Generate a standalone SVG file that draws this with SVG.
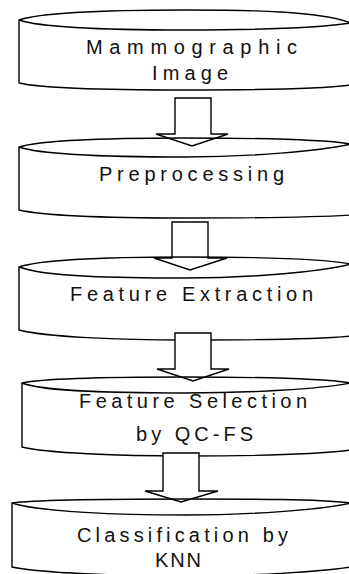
<svg xmlns="http://www.w3.org/2000/svg" width="349" height="574" viewBox="0 0 349 574">
<style>
.b{fill:none;stroke:#000;stroke-width:1.4;stroke-linejoin:round}
.a{fill:#fff;stroke:#000;stroke-width:1.4;stroke-linejoin:miter}
.t{font-family:"Liberation Sans Narrow","Liberation Sans",Arial,sans-serif;font-size:20px;fill:#111}
</style>
<rect width="349" height="574" fill="#fff"/>
<g id="node1">
<path class="b" d="M19,20 C45,11 120,10 185,10 C250,10 320,11 351,23 C320,28 250,30 185,30 C120,30 45,29 19,20 Z"/>
<path class="b" d="M19,20 L19,83 C45,89 120,90 185,90 C250,90 320,89 351,85"/>
<text class="t" x="86" y="54" textLength="211" lengthAdjust="spacing">Mammographic</text>
<text class="t" x="152" y="80" textLength="76" lengthAdjust="spacing">Image</text>
</g>
<g id="connectors">
<polygon id="arrow1" class="a" points="175,98 211,98 211,134 228,134 192,146 156,134 175,134"/>
</g>
<g id="node2">
<path class="b" d="M19,147 C45,139 120,138 185,138 C250,138 320,139 351,144 C320,151 250,157 185,157 C120,157 45,156 19,147 Z"/>
<path class="b" d="M19,147 L19,210 C45,216 120,218 185,218 C250,218 320,217 351,215"/>
<text class="t" x="99" y="181" textLength="185" lengthAdjust="spacing">Preprocessing</text>
</g>
<g id="connectors2">
<polygon id="arrow2" class="a" points="172,222 208,222 208,258 227,258 190,270 154,258 172,258"/>
</g>
<g id="node3">
<path class="b" d="M19,267 C45,258 120,257 185,257 C250,257 320,258 351,264 C320,272 250,278 185,278 C120,278 45,277 19,267 Z"/>
<path class="b" d="M19,267 L19,330 C45,337 120,340 185,340 C250,340 320,339 351,336"/>
<text class="t" x="70" y="301" textLength="243" lengthAdjust="spacing">Feature Extraction</text>
</g>
<g id="connectors3">
<polygon id="arrow3" class="a" points="175,333 211,333 211,369 229,369 193,381 157,369 175,369"/>
</g>
<g id="node4">
<path class="b" d="M22,383 C45,378 120,377 185,377 C250,377 320,378 351,383 C320,389 250,393 185,393 C120,393 45,392 22,383 Z"/>
<path class="b" d="M22,383 L22,447 C45,453 120,456 185,456 C250,456 320,454 351,450"/>
<text class="t" x="79" y="408" textLength="228" lengthAdjust="spacing">Feature Selection</text>
<text class="t" x="136" y="441" textLength="117" lengthAdjust="spacing">by QC-FS</text>
</g>
<g id="connectors4">
<polygon id="arrow4" class="a" points="163,453 199,453 199,491 218,491 181,502 145,491 163,491"/>
</g>
<g id="node5">
<path class="b" d="M12,503 C40,499 120,499 185,499 C250,499 320,499 351,503 C320,510 250,515 185,515 C120,515 40,512 12,503 Z"/>
<path class="b" d="M12,503 L12,567 C40,573 120,576 185,576 C250,576 320,572 351,567"/>
<text class="t" x="77" y="542" textLength="211" lengthAdjust="spacing">Classification by</text>
<text class="t" x="155" y="567" textLength="46" lengthAdjust="spacing">KNN</text>
</g>
</svg>
